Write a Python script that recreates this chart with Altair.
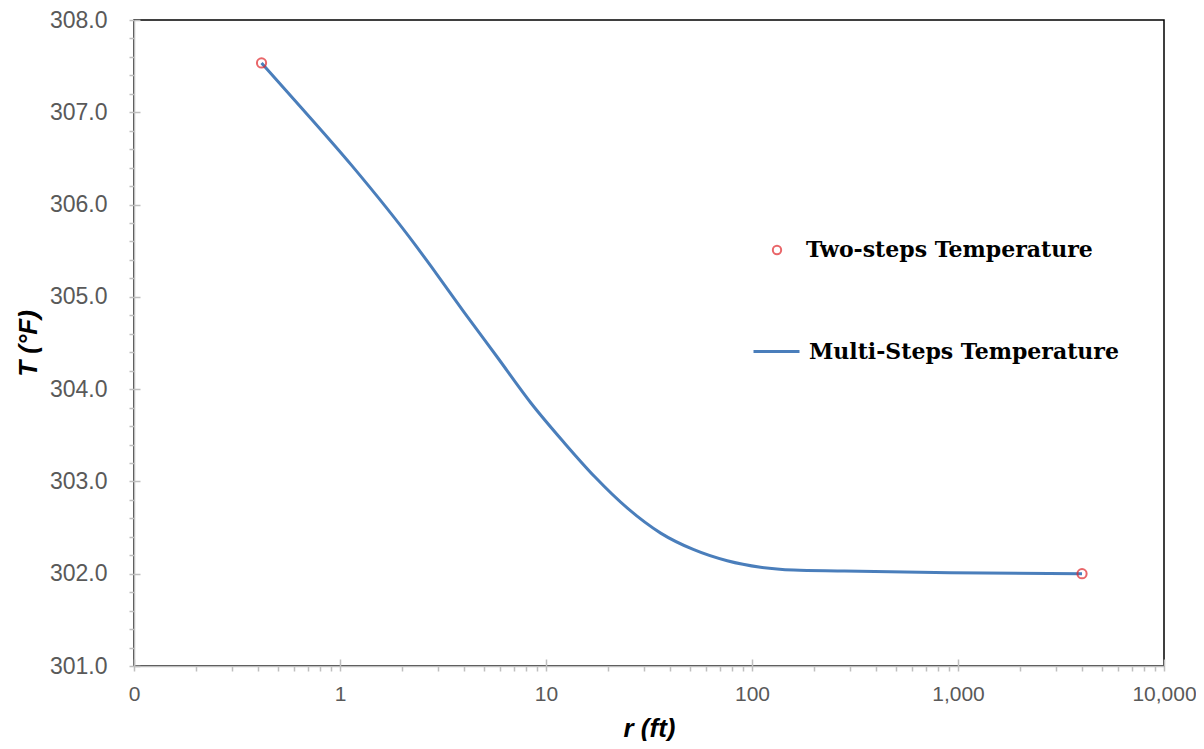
import altair as alt
import pandas as pd

# ---- data ----
r_multi = [0.416, 0.649, 1.134, 2.343, 2.769, 4.015, 5.83, 8.45, 12.25, 17.25, 24.85,
           36.03, 52.2, 75.8, 110, 159.4, 268.5, 915, 4000]
T_multi = [307.535, 307.05, 306.43, 305.55, 305.33, 304.83, 304.34, 303.85, 303.42, 303.05, 302.71,
           302.44, 302.26, 302.14, 302.07, 302.04, 302.03, 302.01, 302.00]
r_two = [0.416, 4000]
T_two = [307.535, 302.00]

series_two = "Two-steps Temperature"
series_multi = "Multi-Steps Temperature"

x_major = [0.1, 1, 10, 100, 1000, 10000]
y_major = [301, 302, 303, 304, 305, 306, 307, 308]
x_ticks = sorted([m * k for m in x_major[:-1] for k in range(1, 10)] + [x_major[-1]])
y_ticks = [round(y_major[0] + 0.2 * i, 1) for i in range(36)]

df_multi = pd.DataFrame({"r": r_multi, "T": T_multi, "series": series_multi})
df_two = pd.DataFrame({"r": r_two, "T": T_two, "series": series_two})

AX_GRAY = "#BFBFBF"
LABEL_C = "#595959"
SANS = "Liberation Sans"
SERIF = "DejaVu Serif"

xscale = alt.Scale(type="log", domain=[0.1, 10000], nice=False)
yscale = alt.Scale(domain=[301, 308], nice=False, zero=False)

x_axis = alt.Axis(
    values=x_ticks,
    labelExpr="datum.value < 0.15 ? '0' : (abs(log(datum.value)/LN10 - round(log(datum.value)/LN10)) < 1e-6 ? format(datum.value, ',') : '')",
    labelOverlap=False, labelFlush=False,
    labelFont=SANS, labelFontSize=21, labelColor=LABEL_C, labelPadding=12,
    tickSize=5, tickColor=AX_GRAY, tickWidth=1.5,
    domainColor=AX_GRAY, domainWidth=1.5, grid=False,
    title="r (ft)", titleFont=SANS, titleFontSize=26, titleFontWeight="bold",
    titleFontStyle="italic", titleColor="black", titleY=70, titleBaseline="alphabetic",
)
y_axis = alt.Axis(
    values=y_ticks,
    labelExpr="abs(datum.value - round(datum.value)) < 0.01 ? format(datum.value, '.1f') : ''",
    labelOverlap=False, labelFlush=False,
    labelFont=SANS, labelFontSize=23, labelColor=LABEL_C, labelPadding=22,
    tickSize=5, tickColor=AX_GRAY, tickWidth=1.5,
    domainColor=AX_GRAY, domainWidth=1.5, grid=False,
    title="T (°F)", titleFont=SANS, titleFontSize=26, titleFontWeight="bold",
    titleFontStyle="italic", titleColor="black", titleX=-98, titleY=323,
    titleBaseline="alphabetic",
)
x_axis_in = alt.Axis(orient="bottom", offset=-7, values=x_major, domain=False, labels=False,
                     tickSize=7, tickColor=AX_GRAY, tickWidth=1.5, grid=False, title=None)
y_axis_in = alt.Axis(orient="left", offset=-6, values=y_major, domain=False, labels=False,
                     tickSize=6, tickColor=AX_GRAY, tickWidth=1.5, grid=False, title=None)

line = alt.Chart(df_multi).mark_line(interpolate="monotone", strokeWidth=3).encode(
    x=alt.X("r:Q", scale=xscale, axis=x_axis),
    y=alt.Y("T:Q", scale=yscale, axis=y_axis),
    color=alt.Color("series:N",
                    scale=alt.Scale(domain=[series_multi], range=["#4A7EBB"]),
                    legend=alt.Legend(orient="none", legendX=618, legendY=307, title=None,
                                      padding=0, symbolSize=2116, symbolStrokeWidth=3,
                                      labelOffset=8, labelFont=SERIF, labelFontSize=22,
                                      labelFontWeight="bold", labelColor="black",
                                      labelLimit=500)),
)

pts = alt.Chart(df_two).mark_point(shape="circle", filled=False, size=85, strokeWidth=2).encode(
    x=alt.X("r:Q", scale=xscale, axis=x_axis_in),
    y=alt.Y("T:Q", scale=yscale, axis=y_axis_in),
    color=alt.Color("series:N",
                    scale=alt.Scale(domain=[series_two], range=["#E0262B"]),
                    legend=alt.Legend(orient="none", legendX=632, legendY=219, title=None,
                                      padding=0, symbolSize=70, symbolStrokeWidth=2,
                                      symbolType="circle", symbolFillColor="transparent",
                                      labelOffset=18, labelFont=SERIF, labelFontSize=22,
                                      labelFontWeight="bold", labelColor="black",
                                      labelLimit=500)),
)

chart = (
    alt.layer(line, pts)
    .resolve_scale(color="independent")
    .resolve_axis(x="independent", y="independent")
    .properties(width=1030, height=646,
                autosize=alt.AutoSizeParams(type="none"),
                padding={"left": 126, "top": 12, "right": 32, "bottom": 75})
    .configure_view(stroke="black", strokeWidth=1.5)
)

chart.save("out.html", embed_options={"renderer": "svg", "actions": False})
